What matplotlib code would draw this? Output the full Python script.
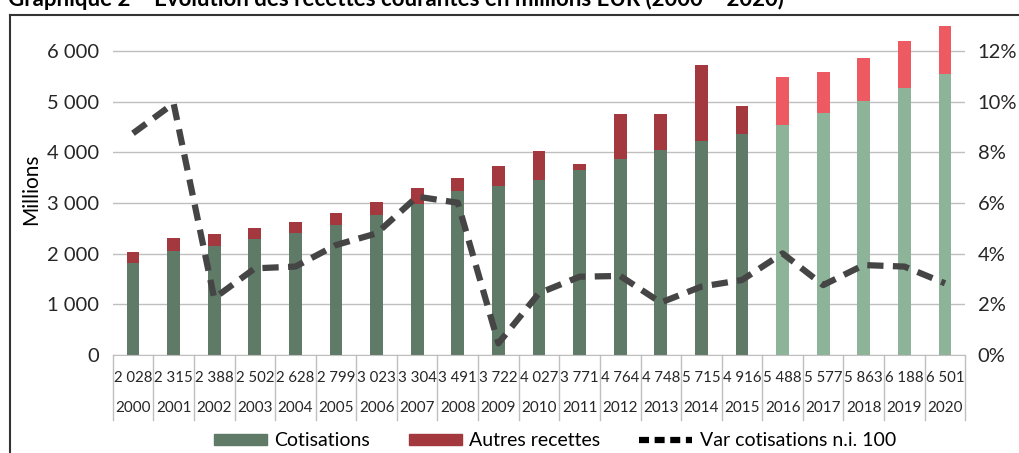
import matplotlib.pyplot as plt
import matplotlib.transforms as mtransforms
from matplotlib.lines import Line2D
from matplotlib.patches import Patch
from matplotlib.ticker import FuncFormatter
import numpy as np

plt.rcParams['font.family'] = ['Lato', 'DejaVu Sans']

years = [str(y) for y in range(2000, 2021)]
totals = [2028, 2315, 2388, 2502, 2628, 2799, 3023, 3304, 3491, 3722, 4027,
          3771, 4764, 4748, 5715, 4916, 5488, 5577, 5863, 6188, 6501]
cotisations = [1820, 2050, 2150, 2280, 2410, 2570, 2760, 2980, 3230, 3330, 3460,
               3650, 3860, 4040, 4230, 4370, 4530, 4780, 5010, 5270, 5550]
autres = [t - c for t, c in zip(totals, cotisations)]
var_cot = [8.75, 9.93, 2.24, 3.42, 3.49, 4.34, 4.80, 6.25, 6.01, 0.46, 2.44,
           3.09, 3.12, 2.07, 2.70, 2.96, 4.01, 2.76, 3.55, 3.49, 2.83]

n_hist = 16  # 2000-2015 historique, 2016-2020 projections
W, H = 1020, 453
fig = plt.figure(figsize=(W / 100, H / 100), dpi=100)
ax = fig.add_axes([112.7 / W, 1 - 355 / H, 852.6 / W, 331.9 / H])

x = np.arange(len(years))
green = ['#5f7a67' if i < n_hist else '#8db398' for i in x]
red = ['#a3383e' if i < n_hist else '#ee5a61' for i in x]
ax.bar(x, cotisations, width=0.32, color=green, zorder=2)
ax.bar(x, autres, width=0.32, bottom=cotisations, color=red, zorder=2)

ax.set_xlim(-0.5, len(years) - 0.5)
ax.set_ylim(0, 6550)
ax.set_yticks(range(0, 7000, 1000))
ax.yaxis.set_major_formatter(FuncFormatter(lambda v, p: f'{int(v):,}'.replace(',', ' ')))
ax.grid(axis='y', color='#bfbfbf', lw=1, zorder=0)
ax.set_xticks([])
for s in ['top', 'right', 'left']:
    ax.spines[s].set_visible(False)
ax.spines['bottom'].set_color('#bfbfbf')
ax.tick_params(axis='y', length=0, pad=10, labelsize=14.5, colors='#262626')
ax.set_ylabel('Millions', fontsize=15, labelpad=4)

ax2 = ax.twinx()
ax2.plot(x, var_cot, color='#454545', lw=4.5, ls=(0, (2.6, 1.5)), zorder=3)
ax2.set_ylim(0, 13.1)
ax2.set_yticks(range(0, 14, 2))
ax2.yaxis.set_major_formatter(FuncFormatter(lambda v, p: f'{int(v)}%'))
ax2.tick_params(axis='y', length=0, pad=9, labelsize=14.5, colors='#262626')
for s in ax2.spines.values():
    s.set_visible(False)

# tableau de données sous le graphique
tr = mtransforms.blended_transform_factory(ax.transData, fig.transFigure)
for i in x:
    ax.text(i, 1 - 378 / H, f'{totals[i]:,}'.replace(',', '\u202f'), transform=tr,
            ha='center', va='center', fontsize=10.8, color='#262626')
    ax.text(i, 1 - 408 / H, years[i], transform=tr,
            ha='center', va='center', fontsize=11, color='#262626')
for i in range(len(years) + 1):
    fig.add_artist(Line2D([i - 0.5, i - 0.5], [1 - 355 / H, 1 - 420 / H],
                          transform=tr, color='#bfbfbf', lw=1))

handles = [Patch(color='#5f7a67'), Patch(color='#a3383e'),
           Line2D([], [], color='black', lw=4.5, ls=(0, (1.6, 0.9)))]
fig.legend(handles, ['Cotisations', 'Autres recettes', 'Var cotisations n.i. 100'],
           loc='center', bbox_to_anchor=(555 / W, 1 - 441 / H), ncol=3,
           frameon=False, fontsize=14, handlelength=2.7, handleheight=0.5,
           columnspacing=2.0, handletextpad=0.4)

# cadre et titre coupé en haut
fig.add_artist(Line2D([10 / W, 10 / W], [1 - 15 / H, 0], transform=fig.transFigure,
                      color='#333333', lw=1.5))
fig.add_artist(Line2D([10 / W, 1], [1 - 15 / H, 1 - 15 / H], transform=fig.transFigure,
                      color='#333333', lw=1.5))
fig.text(8 / W, 1 - 6.5 / H,
         'Graphique 2 – Évolution des recettes courantes en millions EUR (2000 – 2020)',
         fontsize=16, fontweight='bold', va='baseline', ha='left')

fig.savefig('out.png', dpi=100)
